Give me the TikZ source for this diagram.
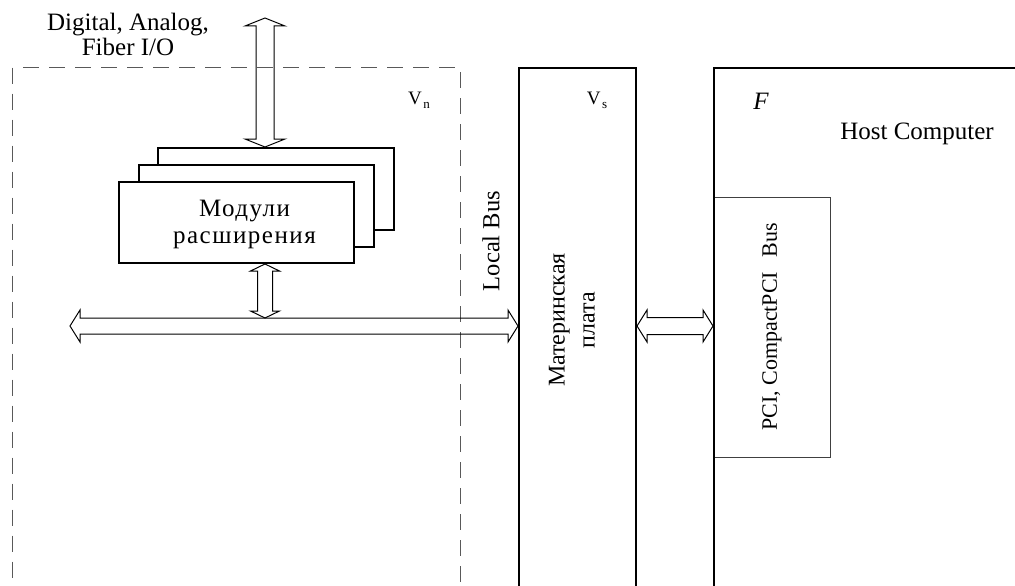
\documentclass[tikz,border=0pt]{standalone}
\usepackage{fontspec}
\setmainfont{Liberation Serif}
\newfontfamily\spacedfont[LetterSpace=6]{Liberation Serif}
\usetikzlibrary{calc}
\newcommand\fatarrow[5]{%
  \coordinate (fa1) at ($(#1)!#5!(#2)$);
  \coordinate (fa2) at ($(#2)!#5!(#1)$);
  \draw[arrowline] (#1) -- ($(fa1)!#4!90:(#2)$) -- ($(fa1)!#3!90:(#2)$)
    -- ($(fa2)!#3!-90:(#1)$) -- ($(fa2)!#4!-90:(#1)$) -- (#2)
    -- ($(fa2)!#4!90:(#1)$) -- ($(fa2)!#3!90:(#1)$)
    -- ($(fa1)!#3!-90:(#2)$) -- ($(fa1)!#4!-90:(#2)$) -- cycle;}
\begin{document}
\begin{tikzpicture}[x=1pt,y=-1pt,
  box/.style={draw,line width=2pt,inner sep=0pt,anchor=north west},
  modbox/.style={box,fill=white},
  dashbox/.style={draw=black!65,line width=1.4pt,dash pattern=on 16pt off 10pt,inner sep=0pt,anchor=north west},
  thinbox/.style={draw=black!75,line width=1pt,inner sep=0pt,anchor=north west},
  arrowline/.style={draw,line width=1pt,line join=miter},
  lbl/.style={font=\fontsize{25}{26}\selectfont,inner sep=0pt,align=center},
  vlbl/.style={inner sep=0pt}]
\useasboundingbox (0,0) rectangle (1015,586);

% containers
\node[dashbox,minimum width=448pt,minimum height=560pt] (vn) at (12,67) {};
\node[box,minimum width=117pt,minimum height=560pt] (mb) at (518,67) {};
\node[thinbox,minimum width=117pt,minimum height=260pt] (pci) at (713,197) {};
\node[box,minimum width=400pt,minimum height=560pt] (host) at (713,67) {};

% module stack
\node[modbox,minimum width=236pt,minimum height=82pt] (m3) at (157,147) {};
\node[modbox,minimum width=235pt,minimum height=82pt] (m2) at (138,164) {};
\node[modbox,minimum width=235pt,minimum height=81pt] (m1) at (118,181) {};
\node[lbl,font=\fontsize{25}{26}\spacedfont] (modtxt) at (m1.center) [xshift=8pt,yshift=-2pt] {Модули\\[1pt]расширения};

% labels
\node[lbl,font=\fontsize{25}{25}\selectfont] (io) at (128,34) {Digital, Analog,\\Fiber I/O};
\node[lbl,rotate=90,font=\fontsize{24.5}{25}\selectfont] (lbus) at (491,241) {Local Bus};
\node[lbl,rotate=90,font=\fontsize{24}{30}\selectfont] (mbtxt) at (572,320) {Материнская\\плата};
\node[lbl,rotate=90,font=\fontsize{22}{22}\selectfont] (pcitxt) at (772,327) {PCI, CompactPCI\hspace{0.4em} Bus};
\node[lbl] (ftxt) at (761,101) {\itshape F};
\node[lbl] (hosttxt) at (917,134) {Host Computer};
\node[vlbl] (vntxt) at (419,100) {\fontsize{19}{19}\selectfont V\hspace{1.5pt}\raisebox{-4pt}{\fontsize{13}{13}\selectfont n}};
\node[vlbl] (vstxt) at (597,100) {\fontsize{19}{19}\selectfont V\hspace{1.5pt}\raisebox{-4pt}{\fontsize{13}{13}\selectfont s}};

% connector end points
\coordinate (ioTop) at (265,18);
\coordinate (m3in) at (m3.north -| ioTop);
\coordinate (m1out) at (m1.south -| ioTop);
\coordinate (busL) at (70,326);
\coordinate (busTop) at (265,318);
\coordinate (busR) at (mb.west |- busL);
\coordinate (mbR) at (mb.east |- busL);
\coordinate (hostL) at (host.west |- busL);

% fat arrows
\fatarrow{ioTop}{m3in}{9pt}{20pt}{8pt}
\fatarrow{m1out}{busTop}{7.5pt}{14.5pt}{7pt}
\fatarrow{busL}{busR}{8pt}{16pt}{10pt}
\fatarrow{mbR}{hostL}{8.5pt}{16pt}{10pt}
\end{tikzpicture}
\end{document}
